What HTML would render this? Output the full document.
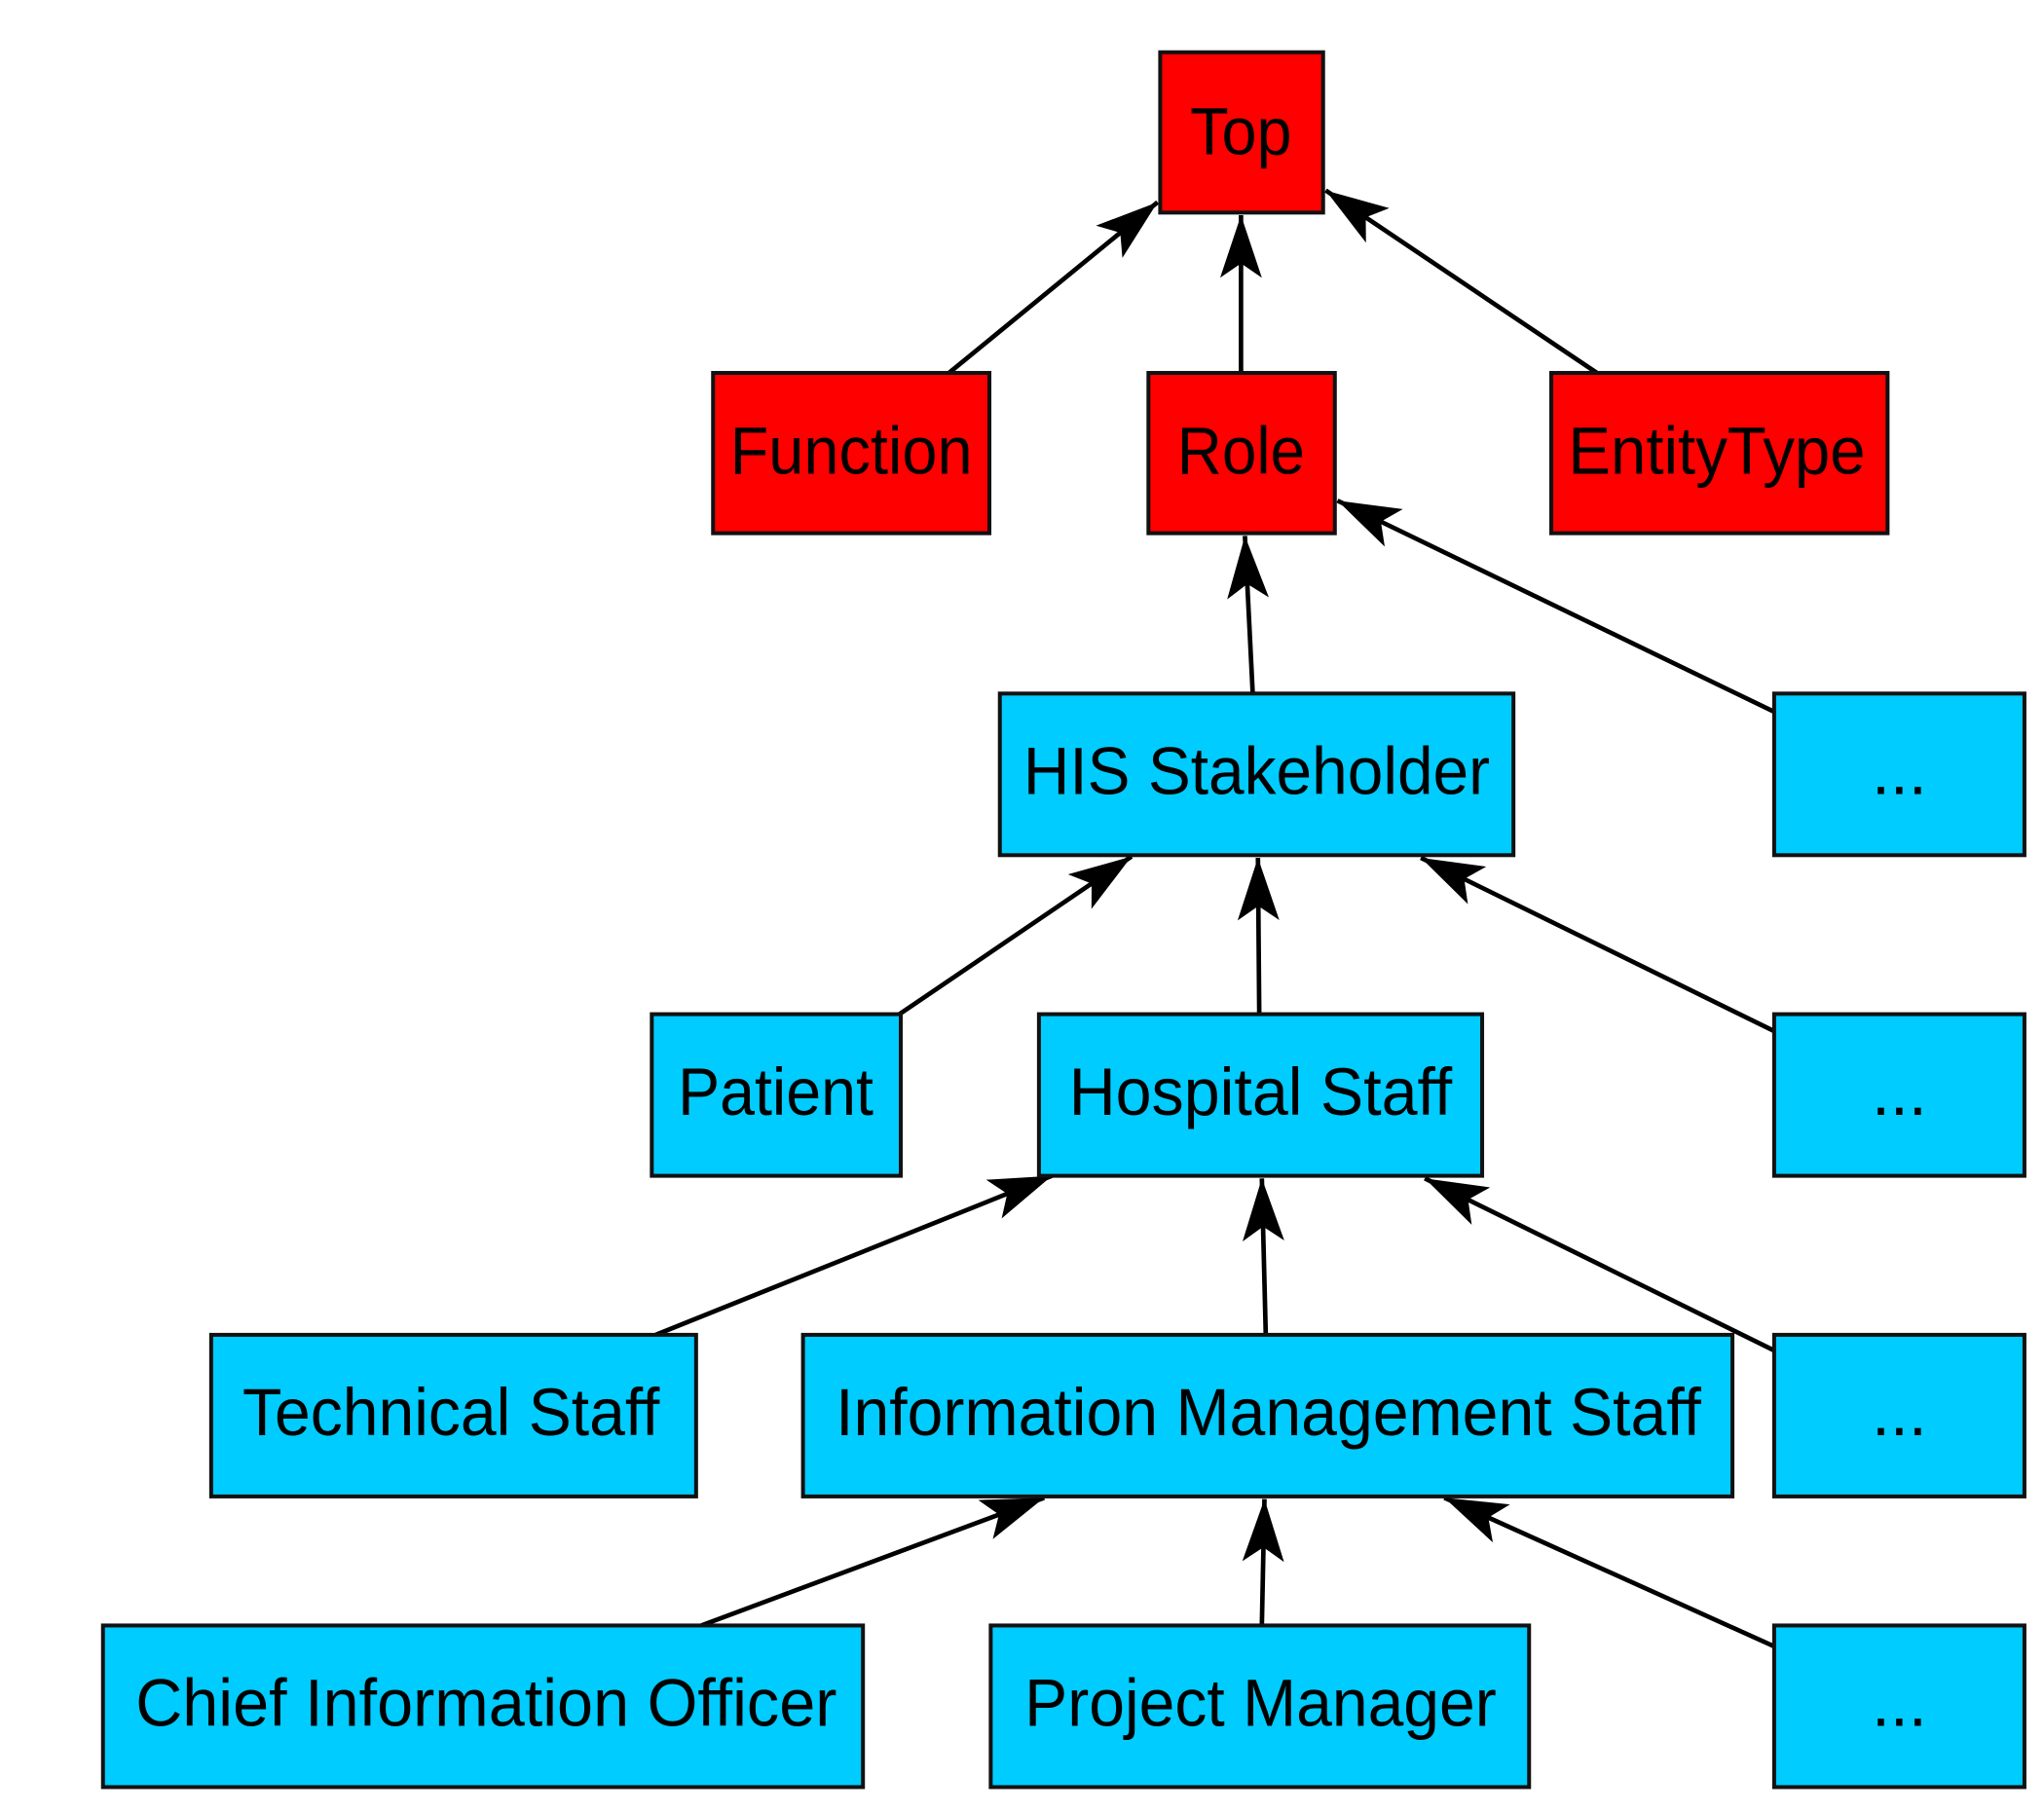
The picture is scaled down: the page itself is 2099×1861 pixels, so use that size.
<!DOCTYPE html>
<html><head><meta charset="utf-8"><style>
html,body{margin:0;padding:0;background:#fff;}
svg{display:block;}
text{font-family:"Liberation Sans",Arial,sans-serif;font-size:51px;fill:#000;text-anchor:middle;dominant-baseline:central;}
rect{stroke:#111;stroke-width:3;}
.r{fill:#fe0000;} .b{fill:#00ccff;}
line{stroke:#000;stroke-width:3.5;}
</style></head><body>
<svg width="2099" height="1861" viewBox="0 0 1568 1390" xmlns="http://www.w3.org/2000/svg">
<defs>
<marker id="a" markerUnits="userSpaceOnUse" markerWidth="60" markerHeight="40" refX="48" refY="17" orient="auto" viewBox="0 0 60 34">
<path d="M48,17 L0,1 L11,17 L0,33 Z" fill="#000"/>
</marker>
</defs>
<g marker-end="url(#a)">
<line x1="728" y1="286" x2="888" y2="155"/>
<line x1="952" y1="286" x2="952" y2="165"/>
<line x1="1225" y1="286" x2="1017" y2="146"/>
<line x1="961" y1="532" x2="955" y2="411"/>
<line x1="1361" y1="546" x2="1026" y2="384"/>
<line x1="690" y1="778" x2="868" y2="657"/>
<line x1="966" y1="778" x2="965" y2="658"/>
<line x1="1361" y1="791" x2="1090" y2="658"/>
<line x1="503" y1="1024" x2="807" y2="902"/>
<line x1="971" y1="1024" x2="968" y2="904"/>
<line x1="1361" y1="1036" x2="1093" y2="904"/>
<line x1="538" y1="1247" x2="801" y2="1149"/>
<line x1="968" y1="1247" x2="970" y2="1150"/>
<line x1="1361" y1="1263" x2="1108" y2="1149"/>
</g>
<rect class="r" x="890" y="40" width="125" height="123"/><text x="952" y="101" textLength="78" lengthAdjust="spacingAndGlyphs">Top</text>
<rect class="r" x="547" y="286" width="212" height="123"/><text x="653" y="346" textLength="186" lengthAdjust="spacingAndGlyphs">Function</text>
<rect class="r" x="881" y="286" width="143" height="123"/><text x="952" y="346" textLength="98" lengthAdjust="spacingAndGlyphs">Role</text>
<rect class="r" x="1190" y="286" width="258" height="123"/><text x="1317" y="346" textLength="228" lengthAdjust="spacingAndGlyphs">EntityType</text>
<rect class="b" x="767" y="532" width="394" height="124"/><text x="964" y="592" textLength="358" lengthAdjust="spacingAndGlyphs">HIS Stakeholder</text>
<rect class="b" x="1361" y="532" width="192" height="124"/><text x="1457" y="592">...</text>
<rect class="b" x="500" y="778" width="191" height="124"/><text x="595" y="838" textLength="150" lengthAdjust="spacingAndGlyphs">Patient</text>
<rect class="b" x="797" y="778" width="340" height="124"/><text x="967" y="838" textLength="294" lengthAdjust="spacingAndGlyphs">Hospital Staff</text>
<rect class="b" x="1361" y="778" width="192" height="124"/><text x="1457" y="838">...</text>
<rect class="b" x="162" y="1024" width="372" height="124"/><text x="346" y="1084" textLength="320" lengthAdjust="spacingAndGlyphs">Technical Staff</text>
<rect class="b" x="616" y="1024" width="713" height="124"/><text x="973" y="1084" textLength="664" lengthAdjust="spacingAndGlyphs">Information Management Staff</text>
<rect class="b" x="1361" y="1024" width="192" height="124"/><text x="1457" y="1084">...</text>
<rect class="b" x="79" y="1247" width="583" height="124"/><text x="373" y="1307" textLength="538" lengthAdjust="spacingAndGlyphs">Chief Information Officer</text>
<rect class="b" x="760" y="1247" width="413" height="124"/><text x="967" y="1307" textLength="362" lengthAdjust="spacingAndGlyphs">Project Manager</text>
<rect class="b" x="1361" y="1247" width="192" height="124"/><text x="1457" y="1307">...</text>
</svg>
</body></html>
